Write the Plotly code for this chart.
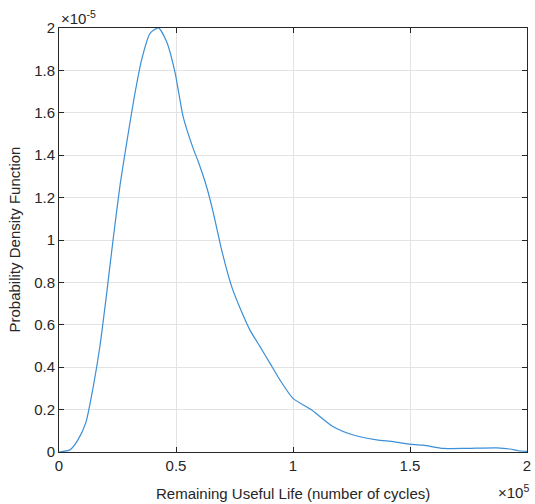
import plotly.graph_objects as go

# Remaining useful life (x 1e5 cycles) and PDF (x 1e-5)
rul = [0.0, 0.047, 0.081, 0.115, 0.145, 0.175, 0.205, 0.231, 0.261, 0.291, 0.321, 0.353,
       0.389, 0.425, 0.46, 0.496, 0.531, 0.574, 0.595, 0.631, 0.66, 0.695, 0.738, 0.774,
       0.816, 0.859, 0.902, 0.944, 1.0, 1.08, 1.172, 1.258, 1.358, 1.429, 1.486, 1.557,
       1.642, 1.742, 1.870, 1.927, 1.963, 2.0]
pdf = [0.0, 0.01, 0.057, 0.14, 0.30, 0.50, 0.76, 1.0, 1.26, 1.47, 1.67, 1.85,
       1.975, 2.0, 1.935, 1.79, 1.58, 1.43, 1.37, 1.25, 1.126, 0.953, 0.78, 0.678,
       0.575, 0.497, 0.418, 0.34, 0.253, 0.198, 0.119, 0.080, 0.057, 0.049, 0.038, 0.032,
       0.017, 0.017, 0.019, 0.014, 0.006, 0.003]

x_ticks = [0, 0.5, 1, 1.5, 2]
x_tick_labels = ["0", "0.5", "1", "1.5", "2"]
y_ticks = [0, 0.2, 0.4, 0.6, 0.8, 1.0, 1.2, 1.4, 1.6, 1.8, 2.0]
y_tick_labels = ["0", "0.2", "0.4", "0.6", "0.8", "1", "1.2", "1.4", "1.6", "1.8", "2"]

font = "Liberation Sans, Arial, sans-serif"
ink = "#262626"
fig = go.Figure()
fig.add_trace(go.Scatter(x=rul, y=pdf, mode="lines", line=dict(color="#3b8fd6", width=1.2),
                         line_shape="spline", line_smoothing=0.6,
                         hoverinfo="skip", cliponaxis=False))

axis_common = dict(showline=True, linecolor=ink, linewidth=1, mirror="ticks",
                   ticks="inside", ticklen=5, tickcolor=ink, showgrid=True,
                   gridcolor="#e3e3e3", gridwidth=1, zeroline=False, automargin=False,
                   tickfont=dict(family=font, size=15, color=ink))
fig.update_xaxes(range=[0, 2], tickvals=x_ticks, ticktext=x_tick_labels, ticklabeloverflow="allow",
                 **axis_common)
fig.update_yaxes(range=[0, 2], tickvals=y_ticks, ticktext=y_tick_labels, ticklabeloverflow="allow",
                 **axis_common)
fig.add_annotation(xref="paper", yref="paper", x=0.5, y=0, xanchor="center", yanchor="top",
                   yshift=-31, showarrow=False, text="Remaining Useful Life (number of cycles)",
                   font=dict(family=font, size=15, color=ink))
fig.add_annotation(xref="paper", yref="paper", x=0, y=0.5, xanchor="right", yanchor="middle",
                   xshift=-35, showarrow=False, textangle=-90, text="Probability Density Function",
                   font=dict(family=font, size=15, color=ink))
fig.add_annotation(xref="paper", yref="paper", x=0, y=1, xanchor="left", yanchor="bottom",
                   yshift=-1, showarrow=False, text="×10<sup>-5</sup>",
                   font=dict(family=font, size=15, color=ink))
fig.add_annotation(xref="paper", yref="paper", x=1, y=0, xanchor="right", yanchor="top",
                   yshift=-28, xshift=4, showarrow=False, text="×10<sup>5</sup>",
                   font=dict(family=font, size=15, color=ink))
fig.update_layout(width=535, height=504, margin=dict(l=59, r=8, t=28, b=52),
                  plot_bgcolor="white", paper_bgcolor="white", showlegend=False)
fig.write_html("out.html", config={"displayModeBar": False},
               post_script="document.body.style.margin='0';document.body.style.overflow='hidden';")
